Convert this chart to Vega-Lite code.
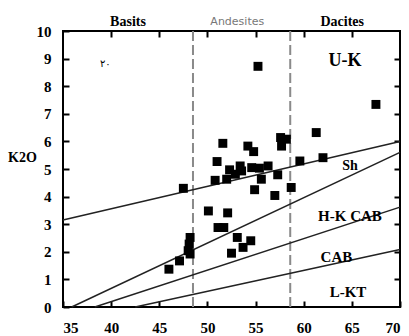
{
  "$schema": "https://vega.github.io/schema/vega-lite/v6.json",
  "width": 337,
  "height": 276,
  "autosize": {"type": "none"},
  "padding": {"left": 63, "top": 31, "right": 9, "bottom": 29},
  "background": "white",
  "config": {
    "view": {"stroke": "black", "strokeWidth": 2},
    "axis": {"grid": false, "domain": false, "labelFont": "Liberation Serif", "labelFontWeight": "bold", "labelFontSize": 15, "labelColor": "black", "titleFont": "Liberation Serif", "titleFontWeight": "bold", "titleColor": "black"}
  },
  "layer": [
    {
      "data": {"values": [{"x": 48.5}, {"x": 58.6}]},
      "mark": {"type": "rule", "color": "#8a8a8a", "strokeWidth": 2, "strokeDash": [10, 4]},
      "encoding": {"x": {"field": "x", "type": "quantitative", "scale": {"domain": [35, 70]}, "axis": null}}
    },
    {
      "data": {"values": [
        {"s": "A", "x": 35, "y": 3.15}, {"s": "A", "x": 70, "y": 6.0},
        {"s": "B", "x": 35.9, "y": 0}, {"s": "B", "x": 70, "y": 5.6},
        {"s": "C", "x": 38.3, "y": 0}, {"s": "C", "x": 70, "y": 3.62},
        {"s": "D", "x": 42.5, "y": 0}, {"s": "D", "x": 70, "y": 2.08}
      ]},
      "mark": {"type": "line", "color": "#222", "strokeWidth": 1.5},
      "encoding": {
        "x": {"field": "x", "type": "quantitative", "scale": {"domain": [35, 70], "nice": false},
          "axis": {"orient": "bottom", "offset": -6, "tickColor": "black", "tickSize": 6, "tickWidth": 2, "values": [35, 40, 45, 50, 55, 60, 65, 70], "labelPadding": 13, "title": null}},
        "y": {"field": "y", "type": "quantitative", "scale": {"domain": [0, 10], "nice": false},
          "axis": {"orient": "left", "offset": -6, "tickColor": "black", "tickSize": 6, "tickWidth": 2, "values": [0, 1, 2, 3, 4, 5, 6, 7, 8, 9, 10], "labelPadding": 12,
            "title": "K2O", "titleAngle": 0, "titleFontSize": 14, "titleX": -47, "titleY": 126, "titleAlign": "center", "titleBaseline": "middle"}},
        "detail": {"field": "s"}
      }
    },
    {
      "data": {"values": [
        {"x": 47.5, "y": 4.30}, {"x": 50.8, "y": 4.59}, {"x": 52.0, "y": 4.63}, {"x": 50.1, "y": 3.48},
        {"x": 52.1, "y": 3.41}, {"x": 51.1, "y": 2.88}, {"x": 51.7, "y": 2.88}, {"x": 48.2, "y": 2.52},
        {"x": 48.1, "y": 2.28}, {"x": 48.0, "y": 2.04}, {"x": 48.2, "y": 1.92}, {"x": 47.1, "y": 1.67},
        {"x": 46.0, "y": 1.37}, {"x": 53.1, "y": 2.52}, {"x": 53.7, "y": 2.16}, {"x": 54.5, "y": 2.40},
        {"x": 52.5, "y": 1.95}, {"x": 54.9, "y": 4.25}, {"x": 57.0, "y": 4.04}, {"x": 51.6, "y": 5.93},
        {"x": 54.2, "y": 5.83}, {"x": 54.8, "y": 5.63}, {"x": 51.0, "y": 5.27}, {"x": 52.3, "y": 4.97},
        {"x": 53.4, "y": 5.11}, {"x": 53.55, "y": 4.93}, {"x": 54.6, "y": 5.05}, {"x": 55.4, "y": 5.03},
        {"x": 56.3, "y": 5.11}, {"x": 57.3, "y": 4.79}, {"x": 52.9, "y": 4.81}, {"x": 57.6, "y": 6.14},
        {"x": 58.2, "y": 6.08}, {"x": 57.7, "y": 5.83}, {"x": 61.3, "y": 6.32}, {"x": 59.6, "y": 5.29},
        {"x": 62.0, "y": 5.41}, {"x": 55.6, "y": 4.63}, {"x": 58.7, "y": 4.33}, {"x": 67.5, "y": 7.34},
        {"x": 55.25, "y": 8.72}
      ]},
      "mark": {"type": "point", "shape": "square", "filled": true, "color": "black", "opacity": 1, "size": 80},
      "encoding": {
        "x": {"field": "x", "type": "quantitative",
          "axis": {"orient": "top", "offset": -6, "tickColor": "black", "tickSize": 6, "tickWidth": 2, "values": [40, 45, 50, 55, 60, 65], "labels": false, "title": null}},
        "y": {"field": "y", "type": "quantitative",
          "axis": {"orient": "right", "offset": -6, "tickColor": "black", "tickSize": 6, "tickWidth": 2, "values": [1, 2, 3, 4, 5, 6, 7, 8, 9], "labels": false, "title": null}}
      }
    },
    {
      "data": {"values": [
        {"x": 64.3, "y": 8.9, "t": "U-K", "fs": 18},
        {"x": 64.8, "y": 5.11, "t": "Sh", "fs": 14},
        {"x": 64.8, "y": 3.3, "t": "H-K CAB", "fs": 15},
        {"x": 63.4, "y": 1.8, "t": "CAB", "fs": 15},
        {"x": 64.6, "y": 0.55, "t": "L-KT", "fs": 15},
        {"x": 41.75, "y": 10.33, "t": "Basits", "fs": 14},
        {"x": 64.0, "y": 10.33, "t": "Dacites", "fs": 14}
      ]},
      "mark": {"type": "text", "font": "Liberation Serif", "fontWeight": "bold", "color": "black", "align": "center", "baseline": "middle"},
      "encoding": {
        "x": {"field": "x", "type": "quantitative", "axis": null},
        "y": {"field": "y", "type": "quantitative", "axis": null},
        "text": {"field": "t"},
        "size": {"field": "fs", "type": "quantitative", "scale": null}
      }
    },
    {
      "data": {"values": [
        {"x": 53.1, "y": 10.33, "t": "Andesites", "fs": 11, "c": "#777"},
        {"x": 39.4, "y": 8.8, "t": "٢٠", "fs": 10, "c": "black"}
      ]},
      "mark": {"type": "text", "font": "DejaVu Sans", "align": "center", "baseline": "middle"},
      "encoding": {
        "x": {"field": "x", "type": "quantitative", "axis": null},
        "y": {"field": "y", "type": "quantitative", "axis": null},
        "text": {"field": "t"},
        "size": {"field": "fs", "type": "quantitative", "scale": null},
        "color": {"field": "c", "type": "nominal", "scale": null}
      }
    }
  ]
}
